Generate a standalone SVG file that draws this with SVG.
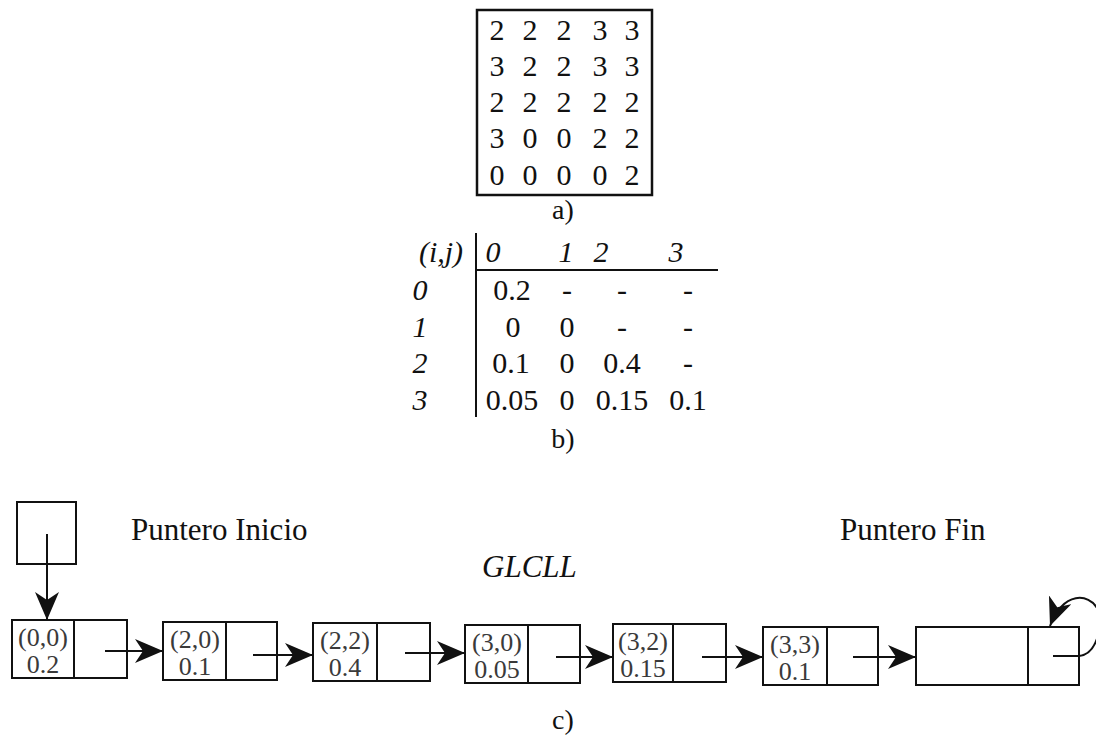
<svg xmlns="http://www.w3.org/2000/svg" width="1096" height="735" viewBox="0 0 1096 735">
  <style>
    .t { font-family: "Liberation Serif", "Times New Roman", serif; fill: #111; }
    .it { font-style: italic; }
    .m { font-size: 30px; text-anchor: middle; }
    .tb { font-size: 30px; text-anchor: middle; }
    .lab { font-size: 31px; }
    .cap { font-size: 28px; text-anchor: middle; }
    .nt { font-family: "Liberation Serif", "Times New Roman", serif; font-size: 26px; text-anchor: middle; fill: #3a3a3a; }
    .box { fill: #fff; stroke: #111; stroke-width: 2; }
    .ln { stroke: #111; stroke-width: 2; fill: none; }
  </style>
  <defs>
    <marker id="head" markerUnits="userSpaceOnUse" markerWidth="30" markerHeight="26" refX="28" refY="12" orient="auto">
      <path d="M0,0 L28,12 L0,24 L8,12 z" fill="#111"/>
    </marker>
  </defs>

  <rect width="1096" height="735" fill="#fff"/>

  <!-- a) state matrix -->
  <g id="matrix">
    <rect x="477" y="10" width="175" height="185" fill="none" stroke="#111" stroke-width="2.5"/>
    <g class="t m">
      <text x="497" y="40">2</text><text x="530" y="40">2</text><text x="564" y="40">2</text><text x="600" y="40">3</text><text x="632" y="40">3</text>
      <text x="497" y="76">3</text><text x="530" y="76">2</text><text x="564" y="76">2</text><text x="600" y="76">3</text><text x="632" y="76">3</text>
      <text x="497" y="112">2</text><text x="530" y="112">2</text><text x="564" y="112">2</text><text x="600" y="112">2</text><text x="632" y="112">2</text>
      <text x="497" y="148">3</text><text x="530" y="148">0</text><text x="564" y="148">0</text><text x="600" y="148">2</text><text x="632" y="148">2</text>
      <text x="497" y="185">0</text><text x="530" y="185">0</text><text x="564" y="185">0</text><text x="600" y="185">0</text><text x="632" y="185">2</text>
    </g>
    <text class="t cap" x="563" y="219">a)</text>
  </g>

  <!-- b) probability table -->
  <g id="table">
    <line class="ln" x1="476" y1="233" x2="476" y2="417"/>
    <line class="ln" x1="476" y1="270" x2="718" y2="270"/>
    <g class="t it tb">
      <text x="441" y="262">(i,j)</text>
      <text x="493" y="262">0</text>
      <text x="566" y="262">1</text>
      <text x="601" y="262">2</text>
      <text x="676" y="262">3</text>
      <text x="420" y="300">0</text>
      <text x="420" y="337">1</text>
      <text x="420" y="373">2</text>
      <text x="420" y="410">3</text>
    </g>
    <g class="t tb">
      <text x="512" y="300">0.2</text><text x="567" y="300">-</text><text x="622" y="300">-</text><text x="688" y="300">-</text>
      <text x="513" y="337">0</text><text x="567" y="337">0</text><text x="622" y="337">-</text><text x="688" y="337">-</text>
      <text x="511" y="373">0.1</text><text x="567" y="373">0</text><text x="622" y="373">0.4</text><text x="688" y="373">-</text>
      <text x="512" y="410">0.05</text><text x="567" y="410">0</text><text x="622" y="410">0.15</text><text x="688" y="410">0.1</text>
    </g>
    <text class="t cap" x="563" y="448">b)</text>
  </g>

  <!-- c) linked list -->
  <g id="labels">
    <text class="t lab" x="131" y="540">Puntero Inicio</text>
    <text class="t lab" x="840" y="540">Puntero Fin</text>
    <text class="t lab it" x="482" y="577">GLCLL</text>
    <text class="t cap" x="563" y="729">c)</text>
  </g>

  <g id="start-pointer">
    <rect class="box" x="17" y="502" width="59" height="62"/>
  </g>

  <g id="node1">
    <rect class="box" x="12" y="620" width="115" height="58"/>
    <line class="ln" x1="74" y1="620" x2="74" y2="678"/>
    <text class="nt" x="43" y="646">(0,0)</text>
    <text class="nt" x="43" y="673">0.2</text>
  </g>
  <g id="node2">
    <rect class="box" x="163" y="622" width="114" height="58"/>
    <line class="ln" x1="226" y1="622" x2="226" y2="680"/>
    <text class="nt" x="195" y="648">(2,0)</text>
    <text class="nt" x="195" y="675">0.1</text>
  </g>
  <g id="node3">
    <rect class="box" x="313" y="623" width="117" height="58"/>
    <line class="ln" x1="377" y1="623" x2="377" y2="681"/>
    <text class="nt" x="345" y="649">(2,2)</text>
    <text class="nt" x="345" y="676">0.4</text>
  </g>
  <g id="node4">
    <rect class="box" x="465" y="625" width="115" height="58"/>
    <line class="ln" x1="528" y1="625" x2="528" y2="683"/>
    <text class="nt" x="497" y="651">(3,0)</text>
    <text class="nt" x="497" y="678">0.05</text>
  </g>
  <g id="node5">
    <rect class="box" x="613" y="624" width="113" height="58"/>
    <line class="ln" x1="673" y1="624" x2="673" y2="682"/>
    <text class="nt" x="643" y="650">(3,2)</text>
    <text class="nt" x="643" y="677">0.15</text>
  </g>
  <g id="node6">
    <rect class="box" x="763" y="627" width="115" height="58"/>
    <line class="ln" x1="827" y1="627" x2="827" y2="685"/>
    <text class="nt" x="795" y="653">(3,3)</text>
    <text class="nt" x="795" y="680">0.1</text>
  </g>
  <g id="node7">
    <rect class="box" x="916" y="627" width="163" height="58"/>
    <line class="ln" x1="1028" y1="627" x2="1028" y2="685"/>
  </g>

  <g id="connectors">
    <line class="ln" x1="47" y1="534" x2="47" y2="620" marker-end="url(#head)"/>
    <line class="ln" x1="105" y1="651" x2="163" y2="651" marker-end="url(#head)"/>
    <line class="ln" x1="253" y1="655" x2="313" y2="655" marker-end="url(#head)"/>
    <line class="ln" x1="405" y1="653" x2="465" y2="653" marker-end="url(#head)"/>
    <line class="ln" x1="556" y1="657" x2="613" y2="657" marker-end="url(#head)"/>
    <line class="ln" x1="702" y1="657" x2="763" y2="657" marker-end="url(#head)"/>
    <line class="ln" x1="853" y1="657" x2="916" y2="657" marker-end="url(#head)"/>
    <path class="ln" d="M1053,656 L1079,656 C1099,654 1104,618 1097,608 C1089,594 1064,590 1050,626" marker-end="url(#head)"/>
  </g>
</svg>
